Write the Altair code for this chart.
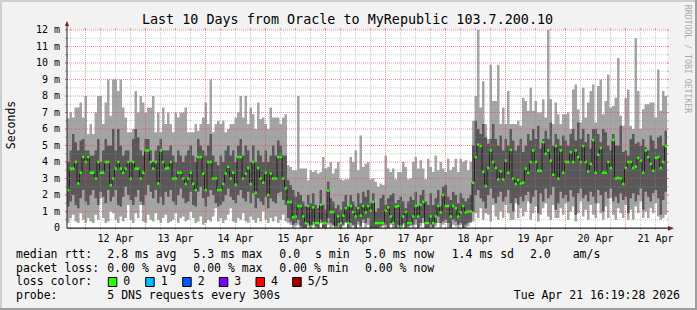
import altair as alt
import pandas as pd

FONT = "DejaVu Sans Mono"
START_HOUR = 16.6          # first column, in hours after 11 Apr 00:00
HOURS_SHOWN = 240          # one column per hour, 10 days
W, H = 600, 198            # plot area (0..12 ms)
PAD_L, PAD_T = 67, 30

# ---- data (ms), one value per hour ----
MED = [2.3,3.6,3.6,4.0,2.7,3.35,4.3,4.0,4.3,3.35,
       3.35,3.0,4.0,3.35,3.35,4.0,4.0,2.6,3.0,3.6,
       4.0,3.6,3.35,3.6,4.0,3.0,4.0,3.6,3.6,3.0,
       3.35,4.7,4.7,4.0,3.6,4.0,2.7,4.7,4.0,3.6,
       3.64,4.0,3.0,3.0,3.35,3.35,3.0,2.67,3.0,3.35,
       2.67,2.3,4.3,4.3,3.3,2.3,4.0,4.0,3.0,3.0,
       2.3,2.3,2.67,3.3,3.7,3.0,3.35,2.63,4.3,4.3,
       3.0,3.3,3.64,2.67,4.0,2.14,3.64,3.0,2.75,3.35,
       2.0,3.3,3.0,3.0,4.3,4.3,3.0,2.4,1.58,1.58,
       0.65,0.7,1.33,1.33,0.7,0.3,1.33,0.1,1.25,0.3,
       0.3,1.41,0.3,0.3,2.26,0.97,0.97,0.04,0.7,0.3,
       0.75,1.2,0.3,1.33,0.97,0.7,1.2,0.75,1.33,0.95,
       1.33,1.05,1.58,0.3,0.3,0.3,0.3,1.05,1.25,0.7,
       0.3,1.3,1.33,0.08,0.7,0.97,0.3,0.3,0.7,1.33,
       0.7,1.41,1.58,0.3,0.3,0.7,0.3,0.7,1.33,0.95,
       2.0,1.33,1.33,0.7,1.33,1.2,0.7,0.95,1.33,0.95,
       1.0,1.0,2.75,4.3,5.05,4.97,3.4,2.55,3.64,4.7,
       4.0,3.64,2.95,3.43,2.95,4.08,3.35,4.73,3.0,2.67,
       2.9,2.7,2.75,3.6,3.35,4.0,4.7,4.0,3.47,3.47,
       5.2,4.5,4.7,4.08,3.23,4.97,3.0,4.7,3.35,4.0,
       4.0,4.6,4.0,4.7,4.3,4.0,4.97,4.0,3.43,3.88,
       5.33,3.35,4.44,4.85,3.35,3.35,4.0,3.64,5.33,3.0,
       3.03,3.0,2.67,3.64,4.0,4.0,3.64,3.72,4.24,4.08,
       3.35,4.7,4.3,3.88,3.47,4.24,4.3,3.64,4.0,4.97]

Q4 = [4.0,4.7,5.7,5.2,4.7,5.3,5.4,4.7,4.7,4.4,
      4.4,4.7,5.4,4.0,4.7,5.4,5.0,5.0,6.0,4.7,
      6.0,5.0,4.4,4.7,4.7,4.0,5.4,6.0,5.5,4.7,
      4.4,5.4,5.4,4.7,4.0,4.7,5.0,5.4,4.7,4.7,
      4.7,5.0,4.4,4.0,4.7,4.4,4.0,4.4,4.7,5.0,
      4.4,4.0,5.4,5.0,4.7,4.4,5.0,5.7,4.4,4.0,
      3.8,4.4,4.0,4.7,5.0,4.4,4.7,4.0,5.0,5.4,
      4.4,5.0,4.7,4.0,5.0,4.0,4.7,4.4,4.0,4.7,
      4.0,4.4,5.0,4.4,5.3,5.0,4.4,4.4,2.9,2.6,
      2.3,1.9,2.2,2.0,1.6,1.3,2.0,1.5,2.1,1.4,
      1.2,2.3,1.4,1.1,2.8,1.8,1.6,1.2,1.4,1.1,
      1.6,2.0,1.3,2.0,1.6,1.3,2.1,1.5,2.2,1.9,
      2.3,1.5,2.1,1.0,1.2,1.8,2.0,1.4,1.8,2.0,
      2.1,1.5,1.7,1.9,1.6,1.2,1.6,1.9,1.7,2.2,
      1.3,2.0,2.3,1.6,1.4,2.1,1.4,1.8,2.3,1.3,
      2.5,2.6,1.9,1.7,2.2,2.0,1.5,2.1,1.8,1.6,
      1.8,2.0,5.0,6.5,6.0,5.7,6.3,5.5,5.1,5.4,
      6.3,5.4,5.0,5.6,4.7,5.4,5.0,6.0,5.3,4.7,
      5.0,5.4,4.6,5.0,5.7,5.3,6.0,5.4,6.2,4.8,
      5.4,5.9,5.4,6.4,5.0,5.7,5.4,5.0,5.6,5.3,
      5.0,5.7,6.0,5.3,6.4,5.4,6.0,5.2,5.7,4.8,
      6.0,6.0,5.7,5.2,6.0,5.8,5.0,4.7,5.7,5.0,
      5.0,6.2,4.6,4.7,4.4,5.4,5.7,5.1,5.2,5.0,
      5.4,4.9,4.7,5.6,5.3,4.8,5.5,5.6,5.0,5.9]

Q2 = [1.3,1.6,2.0,1.4,1.2,1.8,2.3,1.6,1.4,2.0,
      2.3,1.8,1.4,2.2,1.9,1.5,2.3,1.6,1.9,2.3,
      1.4,1.3,1.9,2.5,2.0,1.7,1.4,1.9,2.3,1.6,
      1.4,2.0,2.6,2.2,1.8,2.3,1.5,1.9,1.4,2.2,
      1.9,2.3,1.6,1.4,2.0,2.4,1.8,1.5,1.6,2.2,
      1.4,1.3,2.2,2.5,1.8,1.3,1.9,2.3,2.0,1.5,
      1.3,1.4,1.6,2.0,2.4,1.9,1.7,1.5,2.0,2.3,
      1.8,1.6,2.2,1.5,2.1,1.2,1.8,1.6,1.4,1.9,
      1.2,1.8,1.6,1.5,2.1,2.2,1.7,1.4,0.6,0.4,
      0.2,0.3,0.5,0.1,0.0,0.0,0.3,0.0,0.4,0.1,
      0.0,0.5,0.0,0.0,0.6,0.3,0.2,0.0,0.3,0.0,
      0.2,0.4,0.0,0.3,0.2,0.0,0.4,0.1,0.5,0.3,
      0.6,0.0,0.0,0.0,0.0,0.1,0.2,0.2,0.0,0.3,
      0.2,0.0,0.2,0.0,0.3,0.0,0.1,0.2,0.2,0.5,
      0.0,0.3,0.6,0.0,0.0,0.2,0.0,0.3,0.7,0.3,
      0.4,0.5,0.3,0.0,0.5,0.4,0.2,0.3,0.0,0.2,
      0.3,0.4,1.0,2.0,2.3,1.8,1.6,1.2,2.0,2.4,
      1.8,1.5,1.9,2.2,1.6,1.9,2.3,1.5,1.0,1.8,
      1.4,1.9,1.6,2.0,2.2,1.5,1.9,2.3,0.9,2.1,
      1.6,2.4,1.8,2.0,2.5,1.1,1.5,2.2,1.8,2.0,
      1.6,2.3,1.9,0.8,2.1,2.4,1.8,2.0,1.6,2.2,
      1.9,1.5,2.3,2.0,1.0,2.2,1.8,2.4,1.6,1.9,
      1.5,2.1,1.7,1.9,0.9,1.8,2.1,1.6,2.0,2.4,
      1.1,2.2,1.9,1.6,2.1,2.3,1.8,0.8,1.7,2.2]

LO = [0.3,0.6,0.8,0.4,0.3,0.9,0.5,0.3,0.6,0.4,
      0.3,0.8,0.5,1.8,0.6,0.3,0.4,1.0,0.9,0.5,
      0.3,0.7,0.4,0.6,1.4,0.5,0.3,0.9,0.6,1.4,
      0.4,0.3,0.8,0.5,0.4,0.9,0.5,0.3,0.6,0.8,
      0.3,0.4,0.5,0.9,0.3,0.6,0.7,0.4,0.5,1.0,
      0.6,0.3,0.4,0.7,0.2,0.3,0.5,0.4,0.7,1.2,
      0.4,0.6,0.3,0.5,0.8,1.2,0.4,0.3,0.6,0.5,
      0.9,0.4,0.3,0.7,0.5,0.3,0.6,0.4,1.0,0.5,
      0.3,0.6,0.4,0.7,0.3,0.5,0.8,0.4,0.3,0.2,
      0.0,0.1,0.2,0.0,0.0,0.0,0.1,0.0,0.2,0.0,
      0.0,0.3,0.0,0.0,0.2,0.0,0.1,0.0,0.0,0.0,
      0.1,0.3,0.0,0.0,0.1,0.0,0.2,0.0,0.3,0.0,
      0.2,0.0,0.0,0.0,0.0,0.0,0.1,0.0,0.0,0.2,
      0.0,0.0,0.0,0.0,0.2,0.0,0.0,0.1,0.0,0.2,
      0.0,0.1,0.3,0.0,0.0,0.0,0.0,0.1,0.3,0.0,
      0.2,0.3,0.0,0.0,0.2,0.1,0.0,0.2,0.0,0.0,
      0.1,0.3,0.4,0.9,0.6,1.2,0.5,0.9,0.8,0.4,
      1.4,0.7,0.5,1.0,0.6,1.4,0.9,0.5,0.5,1.5,
      0.6,1.2,0.7,1.0,1.6,0.5,0.9,1.3,0.4,0.8,
      1.2,1.5,0.7,0.5,1.4,0.6,0.6,1.2,0.8,1.5,
      0.5,1.0,1.3,0.4,0.9,1.6,0.7,1.1,0.5,1.4,
      0.8,0.6,1.5,0.9,0.5,1.3,0.6,1.8,0.8,0.5,
      1.2,0.9,0.6,1.4,0.5,1.1,0.5,1.3,0.9,1.6,
      0.6,1.0,0.6,1.2,0.9,1.5,0.7,0.5,0.6,0.8]

HI = [6.65,7.0,6.7,7.3,7.3,7.6,6.7,8.0,5.7,6.3,
      5.7,7.0,8.0,8.0,6.3,7.6,9.0,6.8,9.0,9.0,
      8.3,9.0,7.3,6.7,5.8,5.8,6.0,8.3,7.0,8.0,
      7.6,7.0,7.3,7.3,8.0,5.8,7.0,5.8,7.3,6.3,
      7.0,6.3,5.8,7.0,6.7,7.0,7.0,7.3,5.8,5.8,
      5.8,6.3,5.9,6.3,6.7,7.6,6.3,9.0,5.8,6.3,
      6.5,6.3,6.5,5.8,6.0,6.3,6.3,6.7,7.0,8.0,
      6.7,8.0,6.3,7.3,6.9,6.0,7.6,6.6,6.7,6.3,
      6.0,7.3,6.7,6.7,6.7,6.3,6.7,6.9,3.8,3.7,
      3.5,3.5,8.0,3.6,3.6,3.6,2.9,3.5,3.4,3.5,
      3.3,3.4,4.3,3.6,3.7,4.0,3.3,3.6,4.0,2.95,
      2.9,2.95,2.95,4.3,4.0,4.7,3.5,5.6,3.7,3.9,
      4.0,2.95,3.0,2.8,2.5,2.7,2.6,4.4,3.6,3.4,
      3.6,2.95,3.4,3.4,4.0,3.7,2.95,3.0,4.0,4.3,
      3.6,4.1,3.6,2.95,4.2,3.7,3.4,4.4,3.5,4.0,
      3.6,3.4,4.2,3.5,3.7,4.2,3.4,4.2,4.0,4.1,
      3.5,4.0,6.5,8.0,12.3,7.3,8.9,6.3,5.4,9.9,
      7.7,7.7,9.9,6.3,7.3,6.3,8.3,6.3,6.3,6.3,
      6.5,6.2,7.9,7.7,7.1,8.5,7.1,7.7,7.0,7.0,
      7.8,6.7,12.3,7.8,6.3,7.6,6.9,6.3,6.9,6.9,
      7.0,6.0,8.4,8.7,7.2,6.4,8.5,6.7,7.6,8.3,
      8.7,6.4,8.6,9.0,6.9,7.7,9.3,7.3,7.4,7.9,
      10.3,6.8,6.2,7.9,8.4,6.2,6.0,11.5,8.3,6.0,
      7.2,7.5,7.5,7.6,7.6,6.7,9.6,7.1,8.3,8.0]

# ---- ticks / labels ----
DAY_LINES = [24, 48, 72, 96, 120, 144, 168, 192, 216, 240]
SIX_HOUR_LINES = [18, 30, 36, 42, 54, 60, 66, 78, 84, 90, 102, 108, 114, 126, 132,
                  138, 150, 156, 162, 174, 180, 186, 198, 204, 210, 222, 228, 234, 246, 252]
LABEL_HOURS = [36, 60, 84, 108, 132, 156, 180, 204, 228, 252]
LABEL_TEXT = ["12 Apr", "13 Apr", "14 Apr", "15 Apr", "16 Apr", "17 Apr", "18 Apr",
              "19 Apr", "20 Apr", "21 Apr"]
Y_LABELS = [0, 1, 2, 3, 4, 5, 6, 7, 8, 9, 10, 11, 12]
Y_LABEL_TEXT = ["0\u00a0\u00a0", "1 m", "2 m", "3 m", "4 m", "5 m", "6 m", "7 m", "8 m",
                "9 m", "10 m", "11 m", "12 m"]
Y_MAJOR = [1, 2, 3, 4, 5, 6, 7, 8, 9, 10, 11, 12]
Y_MINOR = [0.5, 1.5, 2.5, 3.5, 4.5, 5.5, 6.5, 7.5, 8.5, 9.5, 10.5, 11.5]

LOSS_LABELS = ["0", "1", "2", "3", "4", "5/5"]
LOSS_COLORS = ["#26ff00", "#00b8ff", "#0059ff", "#7e00ff", "#ff0000", "#a10000"]

LIGHT = "#a4a4a4"
DARK = "#585858"
MGRID = "#de4f4f"
GRID = "#8f8f8f"

n = len(MED)
hours = [START_HOUR + i for i in range(n + 1)]


def ext(a):
    return a + [a[-1]]


df = pd.DataFrame({"h": hours, "lo": ext(LO), "q2": ext(Q2), "med": ext(MED),
                   "q4": ext(Q4), "hi": ext(HI)})
seg = pd.DataFrame({"h": hours[:-1], "h_end": hours[1:], "med": MED})

xs = alt.Scale(domain=[START_HOUR, START_HOUR + HOURS_SHOWN], nice=False, zero=False)
ys = alt.Scale(domain=[0, 12], nice=False, zero=False)

light = alt.Chart(df).mark_area(interpolate="step-after", color=LIGHT, clip=True).encode(
    x=alt.X("h:Q", scale=xs, axis=None),
    y=alt.Y("lo:Q", scale=ys, axis=None), y2="hi:Q")
dark = alt.Chart(df).mark_area(interpolate="step-after", color=DARK, clip=True).encode(
    x=alt.X("h:Q", scale=xs, axis=None),
    y=alt.Y("q2:Q", scale=ys, axis=None), y2="q4:Q")
medline = alt.Chart(df).mark_line(interpolate="step-after", color="#202020",
                                  strokeWidth=1, clip=True).encode(
    x=alt.X("h:Q", scale=xs, axis=None), y=alt.Y("med:Q", scale=ys, axis=None))
green = alt.Chart(seg).mark_rule(color=LOSS_COLORS[0], strokeWidth=2.5, clip=True).encode(
    x=alt.X("h:Q", scale=xs, axis=None), x2="h_end:Q",
    y=alt.Y("med:Q", scale=ys, axis=None))


def vgrid(vals, color, op):
    d = pd.DataFrame({"h": vals})
    dashed = alt.Chart(d).mark_rule(color=color, opacity=op, strokeDash=[1, 1]).encode(
        x=alt.X("h:Q", scale=xs, axis=None), y=alt.value(-2), y2=alt.value(H + 2))
    t1 = alt.Chart(d).mark_rule(color=color, opacity=op).encode(
        x=alt.X("h:Q", scale=xs, axis=None), y=alt.value(H), y2=alt.value(H + 2))
    t2 = alt.Chart(d).mark_rule(color=color, opacity=op).encode(
        x=alt.X("h:Q", scale=xs, axis=None), y=alt.value(-2), y2=alt.value(0))
    return [dashed, t1, t2]


def hgrid(vals, color, op):
    d = pd.DataFrame({"v": vals})
    dashed = alt.Chart(d).mark_rule(color=color, opacity=op, strokeDash=[1, 1]).encode(
        y=alt.Y("v:Q", scale=ys, axis=None), x=alt.value(-2), x2=alt.value(W + 2))
    t1 = alt.Chart(d).mark_rule(color=color, opacity=op).encode(
        y=alt.Y("v:Q", scale=ys, axis=None), x=alt.value(-2), x2=alt.value(0))
    t2 = alt.Chart(d).mark_rule(color=color, opacity=op).encode(
        y=alt.Y("v:Q", scale=ys, axis=None), x=alt.value(W), x2=alt.value(W + 2))
    return [dashed, t1, t2]


DUMMY = pd.DataFrame({"d": [0]})


def rule(x, y, x2, y2, color, width=1.0):
    return alt.Chart(DUMMY).mark_rule(color=color, strokeWidth=width).encode(
        x=alt.value(x), y=alt.value(y), x2=alt.value(x2), y2=alt.value(y2))


def box(x, y, x2, y2, fill, stroke=None):
    kw = {"fill": fill}
    if stroke:
        kw["stroke"] = stroke
        kw["strokeWidth"] = 1
    return alt.Chart(DUMMY).mark_rect(**kw).encode(
        x=alt.value(x - PAD_L), y=alt.value(y - PAD_T),
        x2=alt.value(x2 - PAD_L), y2=alt.value(y2 - PAD_T))


def txt(s, x, y, size=11.5, align="left", angle=0, color="#000000"):
    kw = dict(text=s, font=FONT, fontSize=size, align=align, baseline="alphabetic",
              color=color)
    if angle:
        kw["angle"] = angle
    return alt.Chart(DUMMY).mark_text(**kw).encode(
        x=alt.value(x - PAD_L), y=alt.value(y - PAD_T))


def arrow(x, y, path, size):
    return alt.Chart(DUMMY).mark_point(shape=path, filled=True, size=size, opacity=1,
                                       color="#801f1f", strokeWidth=0).encode(
        x=alt.value(x - PAD_L), y=alt.value(y - PAD_T))


layers = [light, dark, medline, green]
layers += vgrid(SIX_HOUR_LINES, GRID, 0.45)
layers += hgrid(Y_MINOR, GRID, 0.45)
layers += vgrid(DAY_LINES, MGRID, 0.6)
layers += hgrid(Y_MAJOR, MGRID, 0.6)

# axis labels (drawn through the scales)
xlab = alt.Chart(pd.DataFrame({"h": LABEL_HOURS, "t": LABEL_TEXT})).mark_text(
    font=FONT, fontSize=10, align="center", baseline="alphabetic", color="#000000").encode(
    x=alt.X("h:Q", scale=xs, axis=None), y=alt.value(211.7), text="t:N")
ylab = alt.Chart(pd.DataFrame({"v": Y_LABELS, "t": Y_LABEL_TEXT})).mark_text(
    font=FONT, fontSize=10, align="right", baseline="middle", color="#000000").encode(
    y=alt.Y("v:Q", scale=ys, axis=None), x=alt.value(-7), text="t:N")
layers += [xlab, ylab]

# axes lines and arrows
layers.append(rule(0, 198.2, 603, 198.2, "#1f1f1f", 1.2))
layers.append(rule(0, 198.2, 0, -5, "#1f1f1f", 1.0))
layers.append(arrow(671, 228.3, "M-1,-0.8L1,0L-1,0.8Z", 36))
layers.append(arrow(67, 23.5, "M0,-1L0.85,1L-0.85,1Z", 25))

# frame (3D shade)
layers.append(box(0, 0, 697, 2, "#cfcfcf"))
layers.append(box(0, 0, 2, 310, "#cfcfcf"))
layers.append(box(0, 308, 697, 310, "#9e9e9e"))
layers.append(box(695, 0, 697, 310, "#9e9e9e"))

# title, y title, watermark
layers.append(txt("Last 10 Days from Oracle to MyRepublic 103.7.200.10", 347.5, 24,
                  size=13.4, align="center"))
layers.append(txt("Seconds", 15, 125, size=11.5, align="center", angle=270))
layers.append(txt("RRDTOOL / TOBI OETIKER", 685, 59, size=8.2, align="center", angle=90,
                  color="#aaaaaa"))

# legend
ROW1 = [("median rtt:", 16), ("2.8 ms avg", 107.3), ("5.3 ms max", 193.3), ("0.0", 279.3),
        ("s min", 315), ("5.0 ms now", 365), ("1.4 ms sd", 451.7), ("2.0", 530),
        ("am/s", 572.7)]
ROW2 = [("packet loss:", 16), ("0.00 % avg", 107.3), ("0.00 % max", 193.3),
        ("0.00 % min", 279.3), ("0.00 % now", 365)]
ROW4 = [("probe:", 16), ("5 DNS requests every 300s", 107.3)]
for s, x in ROW1:
    layers.append(txt(s, x, 258))
for s, x in ROW2:
    layers.append(txt(s, x, 271.7))
layers.append(txt("loss color:", 16, 285.3))
BOX_X = [108.3, 145.7, 182.7, 219.3, 256, 292.7]
for lab, col, bx in zip(LOSS_LABELS, LOSS_COLORS, BOX_X):
    layers.append(box(bx, 277.5, bx + 8.5, 286.5, col, "#000000"))
    layers.append(txt(lab, bx + 15, 285.3))
for s, x in ROW4:
    layers.append(txt(s, x, 299))
layers.append(txt("Tue Apr 21 16:19:28 2026", 680, 299, align="right"))

chart = alt.layer(*layers).properties(
    width=W, height=H,
    padding={"left": PAD_L, "top": PAD_T, "right": 697 - PAD_L - W, "bottom": 310 - PAD_T - H},
    autosize=alt.AutoSizeParams(type="none"),
    background="#f2f2f2",
).configure_view(fill="white", stroke=None)

chart.save("out.html", embed_options={"renderer": "svg", "actions": False})
